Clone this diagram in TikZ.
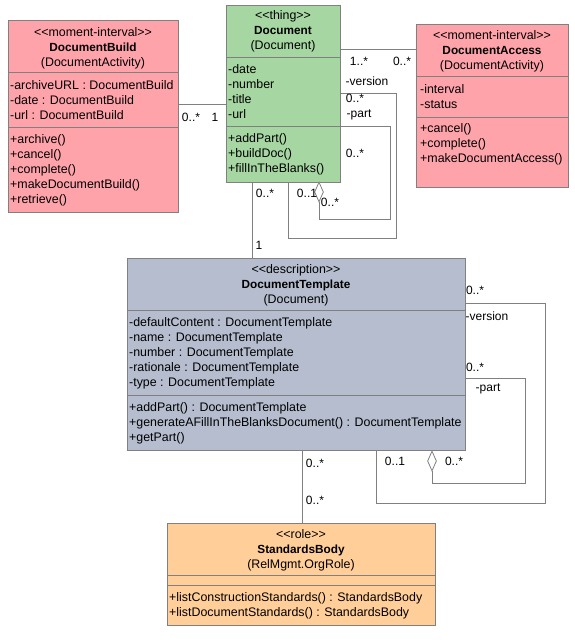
\documentclass[tikz,border=0pt]{standalone}
\usepackage{fontspec}
\setmainfont{Liberation Sans}
\usetikzlibrary{shapes.geometric}

\definecolor{linegray}{RGB}{128,128,128}
\definecolor{mipink}{RGB}{255,163,171}
\definecolor{thinggreen}{RGB}{166,214,161}
\definecolor{descblue}{RGB}{181,189,206}
\definecolor{roleorange}{RGB}{255,206,153}

\newcommand{\clsname}[1]{{\fontsize{11.8}{15}\selectfont\bfseries #1}}

\tikzset{
    classbox/.style={draw=linegray, line width=0.8pt, anchor=north west, inner sep=0pt},
    sep/.style={draw=linegray, line width=0.8pt},
    head/.style={font=\fontsize{12.4}{15}\selectfont, inner sep=0pt, align=center, anchor=north},
    memb/.style={font=\fontsize{12.4}{15}\selectfont, inner sep=0pt, align=left, anchor=north west},
    mult/.style={font=\fontsize{12}{15}\selectfont, inner sep=0pt, text height=8.6pt, text depth=0pt},
    assoc/.style={draw=linegray, line width=0.8pt},
    aggdiamond/.style={diamond, draw=linegray, fill=white, line width=0.8pt, inner sep=0pt, minimum width=9pt, minimum height=20pt},
}

\begin{document}
\begin{tikzpicture}[x=1pt, y=-1pt]
    \useasboundingbox (0,0) rectangle (574,642);

    % classes
    \node[classbox, fill=mipink, minimum width=170pt, minimum height=192pt] (build) at (8,20) {};
    \node[classbox, fill=thinggreen, minimum width=114pt, minimum height=177pt] (doc) at (226,5) {};
    \node[classbox, fill=mipink, minimum width=152pt, minimum height=163pt] (access) at (416,24) {};
    \node[classbox, fill=descblue, minimum width=338pt, minimum height=192pt] (tmpl) at (127,258) {};
    \node[classbox, fill=roleorange, minimum width=268pt, minimum height=102pt] (std) at (167,523) {};

    \draw[sep] (build.west |- 0,72) -- (build.east |- 0,72);
    \draw[sep] (build.west |- 0,127) -- (build.east |- 0,127);
    \draw[sep] (doc.west |- 0,57) -- (doc.east |- 0,57);
    \draw[sep] (doc.west |- 0,126) -- (doc.east |- 0,126);
    \draw[sep] (access.west |- 0,76) -- (access.east |- 0,76);
    \draw[sep] (access.west |- 0,117) -- (access.east |- 0,117);
    \draw[sep] (tmpl.west |- 0,310) -- (tmpl.east |- 0,310);
    \draw[sep] (tmpl.west |- 0,395) -- (tmpl.east |- 0,395);
    \draw[sep] (std.west |- 0,575) -- (std.east |- 0,575);
    \draw[sep] (std.west |- 0,585) -- (std.east |- 0,585);

    \node[head] (build-h) at (93,25.8) {\strut<{}<moment-interval>{}>\\\clsname{DocumentBuild}\\(DocumentActivity)};
    \node[memb] (build-a) at (10,78.8) {\strut-archiveURL : DocumentBuild\\-date : DocumentBuild\\-url : DocumentBuild};
    \node[memb] (build-o) at (10,132.8) {\strut+archive()\\+cancel()\\+complete()\\+makeDocumentBuild()\\+retrieve()};

    \node[head] (doc-h) at (283,8.8) {\strut<{}<thing>{}>\\\clsname{Document}\\(Document)};
    \node[memb] (doc-a) at (228,62.8) {\strut-date\\-number\\-title\\-url};
    \node[memb] (doc-o) at (228,131.8) {\strut+addPart()\\+buildDoc()\\+fillInTheBlanks()};

    \node[head] (access-h) at (492,28.8) {\strut<{}<moment-interval>{}>\\\clsname{DocumentAccess}\\(DocumentActivity)};
    \node[memb] (access-a) at (420,82.8) {\strut-interval\\-status};
    \node[memb] (access-o) at (420,121.8) {\strut+cancel()\\+complete()\\+makeDocumentAccess()};

    \node[head] (tmpl-h) at (296,262.8) {\strut<{}<description>{}>\\\clsname{DocumentTemplate}\\(Document)};
    \node[memb] (tmpl-a) at (129,315.8) {\strut-defaultContent : DocumentTemplate\\-name : DocumentTemplate\\-number : DocumentTemplate\\-rationale : DocumentTemplate\\-type : DocumentTemplate};
    \node[memb] (tmpl-o) at (129,400.8) {\strut+addPart() : DocumentTemplate\\+generateAFillInTheBlanksDocument() : DocumentTemplate\\+getPart()};

    \node[head] (std-h) at (301,527.8) {\strut<{}<role>{}>\\\clsname{StandardsBody}\\(RelMgmt.OrgRole)};
    \node[memb] (std-o) at (169,590.8) {\strut+listConstructionStandards() : StandardsBody\\+listDocumentStandards() : StandardsBody};

    % aggregation diamonds
    \node[aggdiamond] (docdia) at (319,192) {};
    \node[aggdiamond] (tmpldia) at (432,461) {};

    % associations
    \draw[assoc] (build.east |- 0,104) -- (doc.west |- 0,104);
    \draw[assoc] (doc.east |- 0,49) -- (access.west |- 0,49);
    \draw[assoc] (doc.south -| 252,0) -- (tmpl.north -| 252,0);
    \draw[assoc] (tmpl.south -| 302,0) -- (std.north -| 302,0);
    \draw[assoc] (doc.east |- 0,93) -- (396,93) -- (396,238) -- (288,238) -- (doc.south -| 288,0);
    \draw[assoc] (doc.east |- 0,126) -- (390,126) -- (390,219) -- (319,219) -- (docdia.south);
    \draw[assoc] (tmpl.east |- 0,303) -- (545,303) -- (545,503) -- (376,503) -- (tmpl.south -| 376,0);
    \draw[assoc] (tmpl.east |- 0,378) -- (525,378) -- (525,483) -- (432,483) -- (tmpldia.south);

    % multiplicities and roles
    \node[mult] (m1) at (191,117) {0..*};
    \node[mult] (m2) at (215,117) {1};
    \node[mult] (m3) at (359,61) {1..*};
    \node[mult] (m4) at (402,61) {0..*};
    \node[mult] (m5) at (367,81) {-version};
    \node[mult] (m6) at (355,98) {0..*};
    \node[mult] (m7) at (359,113) {-part};
    \node[mult] (m8) at (355,153) {0..*};
    \node[mult] (m9) at (307,193) {0..1};
    \node[mult] (m10) at (330,202) {0..*};
    \node[mult] (m11) at (265,193) {0..*};
    \node[mult] (m12) at (259,245) {1};
    \node[mult] (m13) at (475,290) {0..*};
    \node[mult] (m14) at (487,316) {-version};
    \node[mult] (m15) at (475,367) {0..*};
    \node[mult] (m16) at (488,387) {-part};
    \node[mult] (m17) at (395,461) {0..1};
    \node[mult] (m18) at (454,461) {0..*};
    \node[mult] (m19) at (315,463) {0..*};
    \node[mult] (m20) at (315,500) {0..*};
\end{tikzpicture}
\end{document}
